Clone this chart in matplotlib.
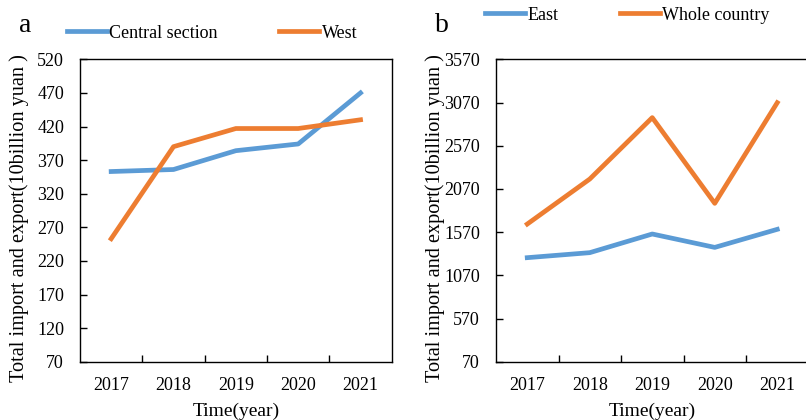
import matplotlib
matplotlib.use("Agg")
import matplotlib.pyplot as plt

years = ["2017", "2018", "2019", "2020", "2021"]
central = [353, 356, 384, 394, 470]
west = [253, 390, 417, 417, 430]
east = [1274, 1332, 1548, 1393, 1602]
whole = [1663, 2184, 2895, 1903, 3068]

ticks_a = [70, 120, 170, 220, 270, 320, 370, 420, 470, 520]
ticks_b = [70, 570, 1070, 1570, 2070, 2570, 3070, 3570]

BLUE = "#5B9BD5"
ORANGE = "#ED7D31"

plt.rcParams["font.family"] = ["Liberation Serif", "DejaVu Serif"]

W, H = 806, 420
fig = plt.figure(figsize=(W / 100, H / 100), dpi=100)


def frac(x0, y0, x1, y1):
    return [x0 / W, 1 - y1 / H, (x1 - x0) / W, (y1 - y0) / H]


def style(ax, yticks):
    x = range(len(years))
    ax.set_xlim(-0.5, len(years) - 0.5)
    ax.set_ylim(yticks[0], yticks[-1])
    ax.set_yticks(yticks)
    ax.set_xticks(list(x))
    ax.set_xticklabels(years)
    ax.set_xticks([i + 0.5 for i in range(len(years) - 1)], minor=True)
    ax.tick_params(axis="y", direction="in", length=5, width=1, pad=11.5, labelsize=13)
    ax.tick_params(axis="x", which="major", length=0, pad=11, labelsize=13)
    ax.tick_params(axis="x", which="minor", direction="in", length=5, width=1)
    for s in ax.spines.values():
        s.set_linewidth(1.0)
        s.set_color("black")


def legend(ax, x, y):
    ax.legend(loc="center left", bbox_to_anchor=(x / W, 1 - y / H),
              bbox_transform=fig.transFigure, ncol=2, frameon=False,
              fontsize=13, handlelength=2.2, handletextpad=0.15,
              columnspacing=3.4, borderpad=0, borderaxespad=0)


YLABEL = "Total import and export(10billion yuan )"

# Panel a: central and west regions
ax1 = fig.add_axes(frac(80, 59.3, 391.7, 361.7))
xs = range(len(years))
ax1.plot(xs, central, color=BLUE, lw=3.4, label="Central section")
ax1.plot(xs, west, color=ORANGE, lw=3.4, label="West")
style(ax1, ticks_a)
legend(ax1, 67, 33)
fig.text(19 / W, 1 - 218 / H, YLABEL, rotation=90, ha="center", va="center", fontsize=14.6)
fig.text(236 / W, 1 - 411 / H, "Time(year)", ha="center", va="center", fontsize=14)
fig.text(25 / W, 1 - 26 / H, "a", ha="center", va="center", fontsize=20)

# Panel b: east region and whole country
ax2 = fig.add_axes(frac(496, 59.3, 808.5, 361.7))
ax2.plot(xs, east, color=BLUE, lw=3.4, label="East")
ax2.plot(xs, whole, color=ORANGE, lw=3.4, label="Whole country")
style(ax2, ticks_b)
legend(ax2, 485, 15)
fig.text(435 / W, 1 - 218 / H, YLABEL, rotation=90, ha="center", va="center", fontsize=14.6)
fig.text(652 / W, 1 - 411 / H, "Time(year)", ha="center", va="center", fontsize=14)
fig.text(441.7 / W, 1 - 25 / H, "b", ha="center", va="center", fontsize=20)

fig.savefig("out.png", dpi=100)
